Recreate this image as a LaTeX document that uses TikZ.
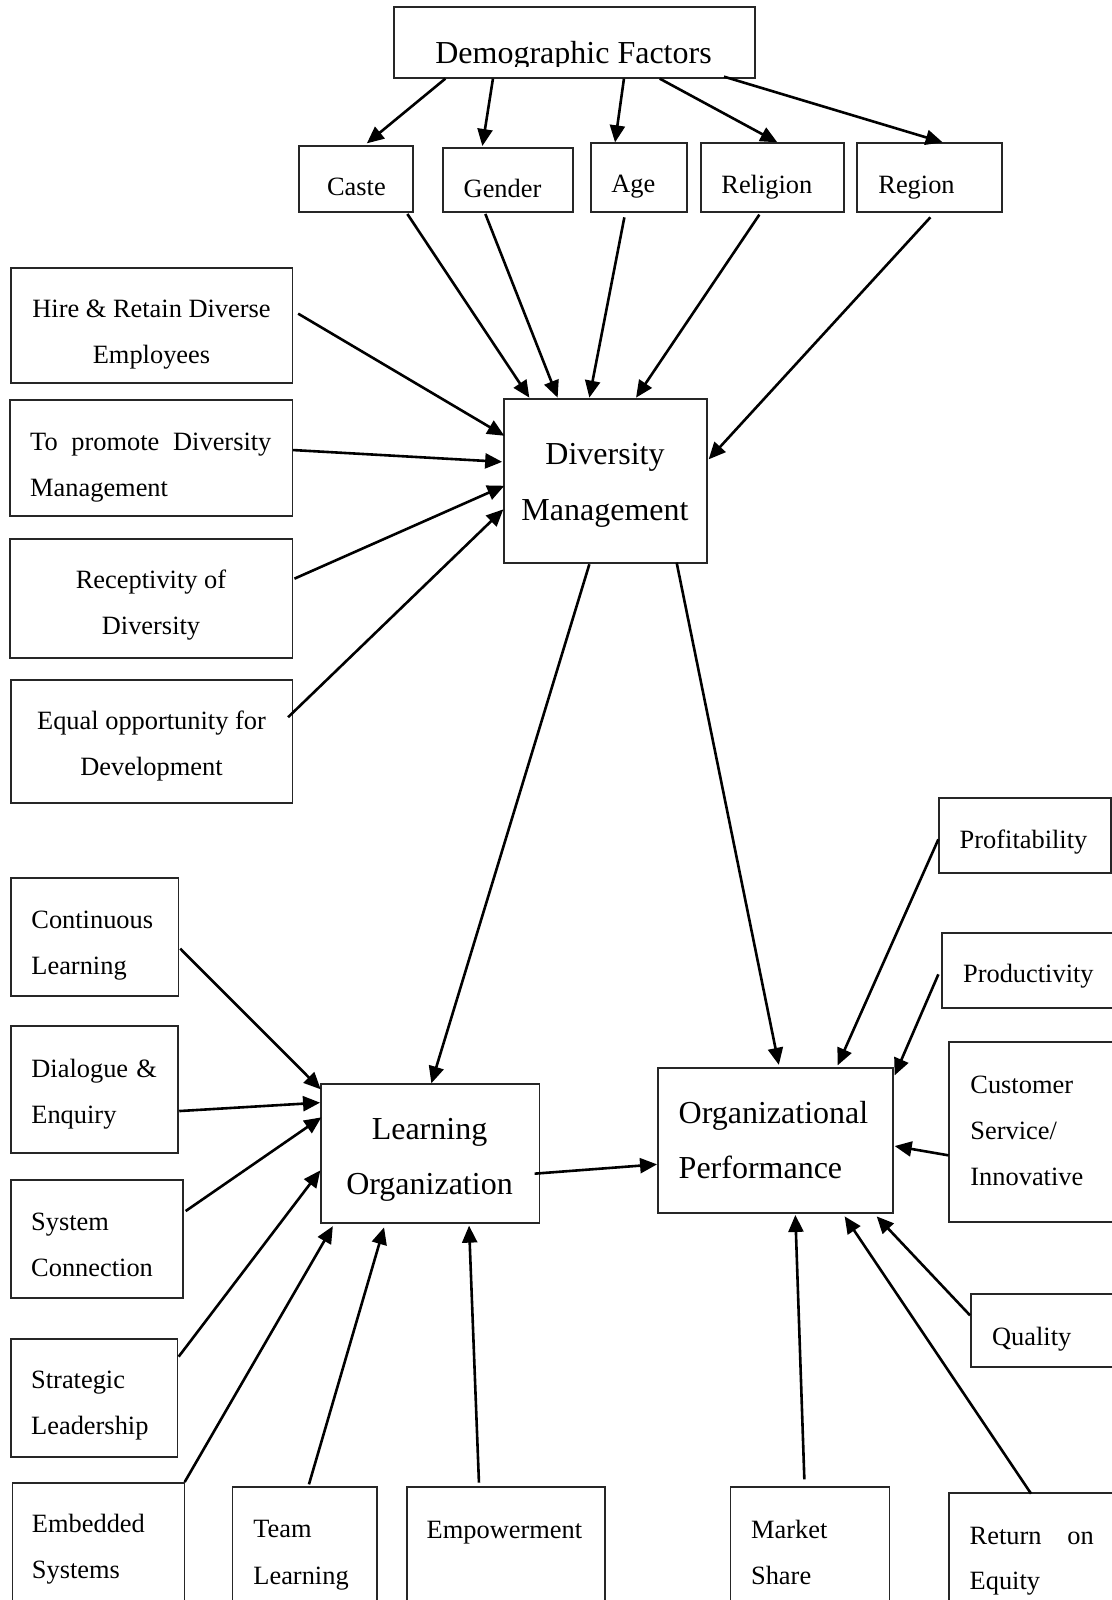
\documentclass[tikz,border=0pt]{standalone}
\usepackage{fontspec}
\setmainfont{Liberation Serif}
\usetikzlibrary{arrows.meta,fit}
\newcommand\txtS{\fontsize{13.2}{15}\selectfont}
\newcommand\txtL{\fontsize{16}{19}\selectfont}
\begin{document}
\begin{tikzpicture}[x=0.5pt,y=-0.5pt,
  box/.style={draw=black!85, line width=0.65pt, inner sep=0pt},
  lbl/.style={inner sep=0pt, font=\txtS},
  lblL/.style={inner sep=0pt, font=\txtL},
  link/.style={line width=1.3pt, -{Triangle[length=8.5pt,width=7.5pt]}}]
\useasboundingbox (0,0) rectangle (1112,1600);
\fill[white] (0,0) rectangle (1112,1600);
\clip (0,0) rectangle (1112,1600);

% ---- boxes ----
\node[box, fit={(394,7) (755,78)}] (demo) {};
\node[box, fit={(299,146) (413,212)}] (caste) {};
\node[box, fit={(443,148) (573,212)}] (gender) {};
\node[box, fit={(591,143) (687,212)}] (age) {};
\node[box, fit={(701,143) (844,212)}] (religion) {};
\node[box, fit={(857,143) (1002,212)}] (region) {};
\node[box, fit={(504,399) (707,563)}] (dm) {};
\node[box, fit={(11,268) (292.5,383)}] (hire) {};
\node[box, fit={(10,400) (292.5,516)}] (promote) {};
\node[box, fit={(10,539) (292.5,658)}] (recept) {};
\node[box, fit={(11,680) (292.5,803)}] (equal) {};
\node[box, fit={(321,1084) (539.5,1223)}] (lo) {};
\node[box, fit={(658,1068) (893,1213)}] (op) {};
\node[box, fit={(11,878) (178.5,996)}] (cont) {};
\node[box, fit={(11,1026) (178,1153)}] (dial) {};
\node[box, fit={(11,1180) (183,1298)}] (sysc) {};
\node[box, fit={(11,1339) (177.5,1457)}] (strat) {};
\node[box, fit={(12.5,1483) (184.5,1630)}] (embed) {};
\node[box, fit={(232.5,1487) (377,1630)}] (team) {};
\node[box, fit={(407,1487) (605,1630)}] (empow) {};
\node[box, fit={(730.5,1487) (889.5,1630)}] (market) {};
\node[box, fit={(949,1493) (1130,1630)}] (roe) {};
\node[box, fit={(939,798) (1111,873)}] (profit) {};
\node[box, fit={(942,933) (1130,1008)}] (product) {};
\node[box, fit={(949,1042) (1130,1222)}] (cust) {};
\node[box, fit={(971,1294) (1130,1367)}] (quality) {};

% ---- texts ----
\begin{scope}
  \clip (394,7) rectangle (755,67);
  \node[lblL, anchor=base] (demo-t) at (573.5,63.3) {Demographic Factors};
\end{scope}
\node[lbl, anchor=base west] (caste-t) at (326.7,195.7) {Caste};
\node[lbl, anchor=base west] (gender-t) at (463.3,197.7) {Gender};
\node[lbl, anchor=base west] (age-t) at (611,192.7) {Age};
\node[lbl, anchor=base west] (religion-t) at (721,193.3) {Religion};
\node[lbl, anchor=base west] (region-t) at (878,193.3) {Region};

\node[lblL, anchor=base] (dm-t1) at (605,464) {Diversity};
\node[lblL, anchor=base] (dm-t2) at (605,520) {Management};

\node[lbl, anchor=base] (hire-t1) at (151.5,317) {Hire \& Retain Diverse};
\node[lbl, anchor=base] (hire-t2) at (151.5,363) {Employees};
\node[lbl, anchor=base west] (promote-t1) at (29.8,450) {\makebox[120.6pt][s]{To promote Diversity}};
\node[lbl, anchor=base west] (promote-t2) at (29.8,496) {Management};
\node[lbl, anchor=base] (recept-t1) at (151,588) {Receptivity of};
\node[lbl, anchor=base] (recept-t2) at (151,634) {Diversity};
\node[lbl, anchor=base] (equal-t1) at (151.5,729) {Equal opportunity for};
\node[lbl, anchor=base] (equal-t2) at (151.5,775.5) {Development};

\node[lbl, anchor=base west] (cont-t1) at (31,928.3) {Continuous};
\node[lbl, anchor=base west] (cont-t2) at (31,974.3) {Learning};
\node[lbl, anchor=base west] (dial-t1) at (31,1077.3) {\makebox[62.7pt][s]{Dialogue \&}};
\node[lbl, anchor=base west] (dial-t2) at (31,1123) {Enquiry};
\node[lbl, anchor=base west] (sysc-t1) at (30.8,1230.7) {System};
\node[lbl, anchor=base west] (sysc-t2) at (30.8,1276) {Connection};
\node[lbl, anchor=base west] (strat-t1) at (30.8,1388.3) {Strategic};
\node[lbl, anchor=base west] (strat-t2) at (30.8,1434.3) {Leadership};
\node[lbl, anchor=base west] (embed-t1) at (31.6,1532.7) {Embedded};
\node[lbl, anchor=base west] (embed-t2) at (31.6,1578.3) {Systems};
\node[lbl, anchor=base west] (team-t1) at (253,1537.3) {Team};
\node[lbl, anchor=base west] (team-t2) at (253,1584) {Learning};
\node[lbl, anchor=base west] (empow-t) at (426.3,1538.3) {Empowerment};
\node[lbl, anchor=base west] (market-t1) at (750.7,1538) {Market};
\node[lbl, anchor=base west] (market-t2) at (750.7,1584) {Share};
\node[lbl, anchor=base west] (roe-t1) at (969.3,1544) {\makebox[62pt][s]{Return on}};
\node[lbl, anchor=base west] (roe-t2) at (969.3,1589) {Equity};

\node[lblL, anchor=base] (lo-t1) at (429.5,1139) {Learning};
\node[lblL, anchor=base] (lo-t2) at (429.5,1194) {Organization};
\node[lblL, anchor=base west] (op-t1) at (678.3,1123) {Organizational};
\node[lblL, anchor=base west] (op-t2) at (678.3,1178) {Performance};

\node[lbl, anchor=base west] (profit-t) at (959.3,848.3) {Profitability};
\node[lbl, anchor=base west] (product-t) at (962.7,982.7) {Productivity};
\node[lbl, anchor=base west] (cust-t1) at (970,1093.3) {Customer};
\node[lbl, anchor=base west] (cust-t2) at (970,1139.3) {Service/};
\node[lbl, anchor=base west] (cust-t3) at (970,1185) {Innovative};
\node[lbl, anchor=base west] (quality-t) at (991.7,1345) {Quality};

% ---- connectors ----
\draw[link] ([shift={(52,0)}]demo.south west) -- ([shift={(68.5,-2)}]caste.north west);
\draw[link] ([shift={(99.6,0)}]demo.south west) -- ([shift={(40,-1.3)}]gender.north west);
\draw[link] ([shift={(230.6,0)}]demo.south west) -- ([shift={(24.7,0)}]age.north west);
\draw[link] ([shift={(266.4,0)}]demo.south west) -- ([shift={(77,0)}]religion.north west);
\draw[link] ([shift={(330.6,-2)}]demo.south west) -- ([shift={(86.3,0)}]region.north west);

\draw[link] ([shift={(-6.3,1.3)}]caste.south east) -- ([shift={(26,-0.7)}]dm.north west);
\draw[link] ([shift={(43,1.3)}]gender.south west) -- ([shift={(54.3,-0.7)}]dm.north west);
\draw[link] ([shift={(34,4.7)}]age.south west) -- ([shift={(86,-0.7)}]dm.north west);
\draw[link] ([shift={(59,2)}]religion.south west) -- ([shift={(132.7,-0.7)}]dm.north west);
\draw[link] ([shift={(74,4.7)}]region.south west) -- ([shift={(1,61)}]dm.north east);

\draw[link] ([shift={(5,46.3)}]hire.north east) -- ([shift={(1,37.4)}]dm.north west);
\draw[link] ([shift={(0,50.7)}]promote.north east) -- ([shift={(-1.2,63.5)}]dm.north west);
\draw[link] ([shift={(1.3,40.3)}]recept.north east) -- ([shift={(1,87.4)}]dm.north west);
\draw[link] ([shift={(-5.1,37.9)}]equal.north east) -- ([shift={(0,111)}]dm.north west);

\draw[link] ([shift={(86,0.6)}]dm.south west) -- ([shift={(111,0)}]lo.north west);
\draw[link] ([shift={(173.3,-1)}]dm.south west) -- ([shift={(121.5,-2.5)}]op.north west);

\draw[link] ([shift={(1.1,71.3)}]cont.north east) -- ([shift={(0.4,6)}]lo.north west);
\draw[link] ([shift={(0.6,85.7)}]dial.north east) -- ([shift={(-0.3,19.3)}]lo.north west);
\draw[link] ([shift={(2,31.7)}]sysc.north east) -- ([shift={(1,34)}]lo.north west);
\draw[link] ([shift={(0.5,18.3)}]strat.north east) -- ([shift={(0,87)}]lo.north west);
\draw[link] ([shift={(-0.5,-0.3)}]embed.north east) -- ([shift={(12.5,2.5)}]lo.south west);
\draw[link] ([shift={(77.1,-2)}]team.north west) -- ([shift={(63.7,3.7)}]lo.south west);
\draw[link] ([shift={(72.6,-3.7)}]empow.north west) -- ([shift={(148.7,2)}]lo.south west);

\draw[link] ([shift={(-5.5,90.3)}]lo.north east) -- ([shift={(-0.3,97)}]op.north west);

\draw[link] ([shift={(0,42)}]profit.north west) -- ([shift={(180.3,-2)}]op.north west);
\draw[link] ([shift={(-3,42)}]product.north west) -- ([shift={(1,8)}]op.north east);
\draw[link] ([shift={(0.3,114)}]cust.north west) -- ([shift={(1,78.7)}]op.north east);
\draw[link] ([shift={(-0.3,22)}]quality.north west) -- ([shift={(-17,2.7)}]op.south east);
\draw[link] ([shift={(82.7,1.3)}]roe.north west) -- ([shift={(-49,2.7)}]op.south east);
\draw[link] ([shift={(74.5,-7)}]market.north west) -- ([shift={(138,1.3)}]op.south west);
\end{tikzpicture}
\end{document}
